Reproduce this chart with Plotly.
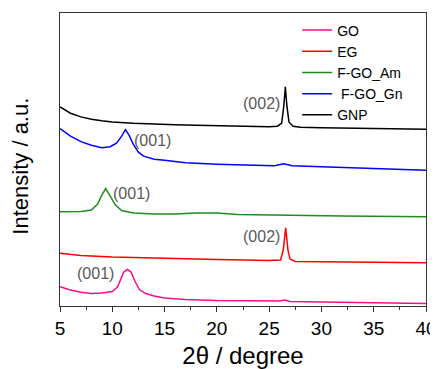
import plotly.graph_objects as go

# 2-theta (degree) and offset intensity (a.u.)
go_x = [5, 6, 7, 8, 9, 10, 10.5, 10.8, 11.1, 11.44, 11.8, 12.15, 12.6, 13.2, 14, 15, 17, 20, 23, 26, 26.5, 27, 30, 35, 40]
go_y = [19.3, 16, 13.7, 12.5, 13, 14.5, 19, 27, 34, 36.7, 34, 25, 16.5, 12.5, 10, 8, 6.5, 5.5, 5, 5, 6, 4.5, 4, 3.2, 2.5]

eg_x = [5, 7, 10, 15, 20, 25, 26.1, 26.35, 26.58, 26.8, 27.0, 27.5, 30, 35, 40]
eg_y = [52.7, 50.5, 49, 47.5, 46.5, 45.5, 46, 56, 78.3, 56, 47, 44.5, 44, 43.7, 43.3]

am_x = [5, 7, 8, 8.6, 9.0, 9.37, 9.8, 10.3, 10.9, 12, 14, 16, 18, 19, 20, 22, 25, 26.5, 28, 32, 40]
am_y = [94.3, 94.5, 96, 102, 111, 117.7, 110, 101, 95.5, 93, 92, 92, 93, 93.3, 93, 91.5, 91, 91.5, 90.5, 90, 89.3]

gn_x = [5, 6, 7, 8, 9, 9.8, 10.4, 10.9, 11.25, 11.6, 12.0, 12.5, 13, 14, 15, 17, 20, 23, 25.5, 26.4, 27.2, 30, 35, 40]
gn_y = [177.7, 170, 164.5, 161, 158.5, 159.5, 163, 170, 176.5, 171, 162, 154, 150, 147, 146, 143.5, 142, 141, 140.5, 142.5, 140.5, 139.5, 138, 136]

gnp_x = [5, 6, 7, 8, 9, 10, 12, 14, 16, 18, 20, 22, 24, 25, 25.8, 26.2, 26.4, 26.55, 26.7, 26.9, 27.3, 28, 30, 33, 36, 40]
gnp_y = [199.3, 193, 189.3, 187, 185.5, 184.3, 183, 182, 181.5, 181, 180.5, 180, 179.7, 179.5, 180, 183, 200, 219.3, 200, 184, 180, 179, 178.5, 178, 177.5, 177]

names = ["GO", "EG", "F-GO_Am", " F-GO_Gn", "GNP"]
colors = ["#FF0A8C", "#FF0000", "#1E8C1E", "#0000FF", "#000000"]

# peak labels: (2theta, intensity, text)
lab_x = [24.26, 24.3, 13.86, 11.83, 8.41]
lab_y = [203, 70, 166, 113, 33]
lab_t = ["(002)", "(002)", "(001)", "(001)", "(001)"]

xs = [go_x, eg_x, am_x, gn_x, gnp_x]
ys = [go_y, eg_y, am_y, gn_y, gnp_y]

fig = go.Figure()
for x, y, n, c in zip(xs, ys, names, colors):
    fig.add_trace(go.Scatter(x=x, y=y, mode="lines", name=n,
                             line=dict(color=c, width=1.5)))

for x, y, t in zip(lab_x, lab_y, lab_t):
    fig.add_annotation(x=x, y=y, text=t, showarrow=False,
                       font=dict(family="Liberation Sans, Arial", size=16, color="#595959"))

# y-axis title placed as a rotated annotation to match the reference position
fig.add_annotation(xref="paper", yref="paper", x=-0.1066, y=0.479,
                   xanchor="center", yanchor="middle",
                   text="Intensity / a.u.", textangle=-90, showarrow=False,
                   font=dict(family="Liberation Sans, Arial", size=22, color="black"))

# the page body adds an 8 px offset, so the figure is 8 px smaller with trimmed margins
fig.update_layout(
    width=430, height=361,
    margin=dict(l=52, r=12, t=5, b=63, autoexpand=False),
    paper_bgcolor="white", plot_bgcolor="white",
    font=dict(family="Liberation Sans, Arial", color="black"),
    showlegend=True,
    legend=dict(x=0.648, y=0.995, xanchor="left", yanchor="top",
                bgcolor="rgba(0,0,0,0)", font=dict(size=14),
                itemwidth=30, tracegroupgap=0),
    xaxis=dict(range=[5, 40], tickvals=[5, 10, 15, 20, 25, 30, 35, 40],
               ticks="outside", ticklen=5, tickwidth=1, tickcolor="#333",
               minor=dict(ticks="outside", ticklen=3, dtick=2.5, tickcolor="#333"),
               showline=True, linecolor="#333", linewidth=1, mirror=True,
               showgrid=False, zeroline=False,
               tickfont=dict(size=19),
               title=dict(text="2θ / degree", font=dict(size=24), standoff=23)),
    yaxis=dict(range=[0, 293.3], showticklabels=False, ticks="",
               showline=True, linecolor="#333", linewidth=1, mirror=True,
               showgrid=False, zeroline=False),
)

fig.write_html("out.html")
